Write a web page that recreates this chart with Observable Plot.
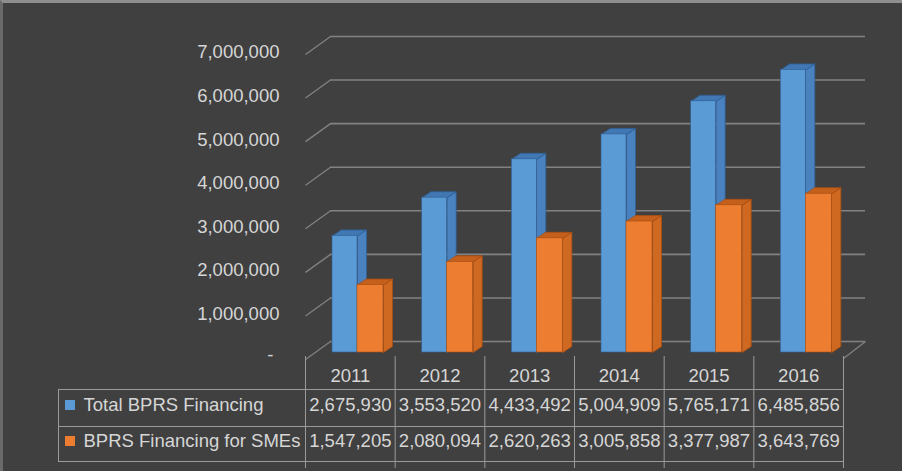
<!DOCTYPE html>
<html>
<head>
<meta charset="utf-8">
<script src="https://cdn.jsdelivr.net/npm/d3@7"></script>
<script src="https://cdn.jsdelivr.net/npm/@observablehq/plot@0.6"></script>
<style>
  html, body { margin: 0; padding: 0; background: #404040; }
  #wrap { position: relative; width: 902px; height: 471px; overflow: hidden; background: #404040; }
  #wrap svg { position: absolute; left: 0; top: 0; }
  #frame { position: absolute; left: 0; top: 0; width: 902px; height: 471px; box-sizing: border-box;
           border-top: 3px solid #8e8e8e; border-left: 3px solid #6a6a6a; pointer-events: none; }
</style>
</head>
<body>
<div id="wrap"><div id="frame"></div></div>
<script>
// ---- data ----
const years = ["2011", "2012", "2013", "2014", "2015", "2016"];
const totalFinancing = [2675930, 3553520, 4433492, 5004909, 5765171, 6485856];
const smeFinancing = [1547205, 2080094, 2620263, 3005858, 3377987, 3643769];
const seriesNames = ["Total BPRS Financing", "BPRS Financing for SMEs"];
const yTicks = [0, 1000000, 2000000, 3000000, 4000000, 5000000, 6000000, 7000000];
const yTickLabels = ["-", "1,000,000", "2,000,000", "3,000,000", "4,000,000", "5,000,000", "6,000,000", "7,000,000"];

(function () {
// ---- layout (pixel geometry, same mapping as the Plot scales) ----
const W = 902, H = 471;
const plotLeft = 305, plotRight = 843, plotTop = 36, plotBottom = 341;
const xPx = d3.scaleLinear([0, years.length], [plotLeft, plotRight]);
const yPx = d3.scaleLinear([0, 7000000], [plotBottom, plotTop]);
const X = p => xPx.invert(p);
const Y = p => yPx.invert(p);
const colW = (plotRight - plotLeft) / years.length;
const depthX = 9 / colW;                         // bar side depth in x units
const depthY = yPx.invert(plotBottom - 6);       // bar top depth in value units
const barLift = 11;                              // bars stand in front of back wall

const palette = {
  blue:   {front: "#5b9bd5", side: "#4a82bf", top: "#4177b2", edge: "#2f5f95"},
  orange: {front: "#ed7d31", side: "#cf6820", top: "#c45f1c", edge: "#a94f12"}
};
const seriesDef = [
  {name: seriesNames[0], values: totalFinancing, offset: 27, width: 25, col: palette.blue},
  {name: seriesNames[1], values: smeFinancing,   offset: 52, width: 26, col: palette.orange}
];

function barMarks(s) {
  const bars = s.values.map((v, i) => ({
    i, v,
    xl: i + s.offset / colW,
    xr: i + (s.offset + s.width) / colW
  }));
  const side = [], topF = [];
  bars.forEach((b, k) => {
    side.push({id: k, x: b.xr, y: 0}, {id: k, x: b.xr + depthX, y: depthY},
              {id: k, x: b.xr + depthX, y: b.v + depthY}, {id: k, x: b.xr, y: b.v});
    topF.push({id: k, x: b.xl, y: b.v}, {id: k, x: b.xr, y: b.v},
              {id: k, x: b.xr + depthX, y: b.v + depthY}, {id: k, x: b.xl + depthX, y: b.v + depthY});
  });
  return [
    Plot.line(side, {x: "x", y: "y", z: "id", fill: s.col.side, stroke: s.col.edge, strokeWidth: 0.8, curve: "linear-closed", dy: barLift}),
    Plot.line(topF, {x: "x", y: "y", z: "id", fill: s.col.top, stroke: s.col.edge, strokeWidth: 0.8, curve: "linear-closed", dy: barLift}),
    Plot.rect(bars, {x1: "xl", x2: "xr", y1: () => 0, y2: "v", fill: s.col.front, stroke: s.col.edge, strokeWidth: 0.6, dy: barLift})
  ];
}

const fmt = d3.format(",");
const textColor = "#d6d6d6";
const gridColor = "#828282";
const lineColor = "#9a9a9a";
const fontSize = 18.5;

// table geometry
const tableLeft = 58;
const headerY = 376;
const rowTop = [389, 426];
const rowBottom = 461;
const rowMid = [405, 441];

const chart = Plot.plot({
  width: W,
  height: H,
  marginLeft: plotLeft,
  marginRight: W - plotRight,
  marginTop: plotTop,
  marginBottom: H - plotBottom,
  x: {domain: [0, years.length], axis: null},
  y: {domain: [0, 7000000], axis: null},
  style: {background: "transparent", color: textColor, fontFamily: "'Liberation Sans', Arial, sans-serif", overflow: "visible"},
  marks: [
    Plot.ruleY(yTicks, {y: d => d, x1: () => X(330), x2: () => X(865), stroke: gridColor, strokeWidth: 1.6}),
    Plot.link(yTicks, {x1: () => X(305), y1: d => Y(yPx(d) + 18), x2: () => X(330), y2: d => d, stroke: gridColor, strokeWidth: 1.3}),
    Plot.link([0], {x1: () => X(843), y1: () => Y(358), x2: () => X(865), y2: () => 0, stroke: gridColor, strokeWidth: 1.3}),
    Plot.text(yTicks.slice(1), {x: () => X(279), y: d => d, dy: 16, text: (d, i) => yTickLabels[i + 1], textAnchor: "end", fontSize, fill: textColor}),
    Plot.text([yTicks[0]], {x: () => X(273), y: d => d, dy: 14, text: () => yTickLabels[0], textAnchor: "end", fontSize, fill: textColor}),
    ...barMarks(seriesDef[0]),
    ...barMarks(seriesDef[1]),
    Plot.ruleX(d3.range(years.length + 1), {x: d => d, y1: () => Y(356), y2: () => Y(468), stroke: lineColor, strokeWidth: 1}),
    Plot.ruleX([0], {x: () => X(tableLeft), y1: () => Y(rowTop[0]), y2: () => Y(rowBottom), stroke: lineColor, strokeWidth: 1}),
    Plot.ruleY([...rowTop, rowBottom], {y: d => Y(d), x1: () => X(tableLeft), x2: () => years.length, stroke: lineColor, strokeWidth: 1}),
    Plot.text(years, {x: (d, i) => i + 0.5, y: () => Y(headerY), text: d => d, fontSize, fill: textColor}),
    Plot.text(totalFinancing, {x: (d, i) => i + 0.5, y: () => Y(rowMid[0]), text: d => fmt(d), fontSize, fill: textColor}),
    Plot.text(smeFinancing, {x: (d, i) => i + 0.5, y: () => Y(rowMid[1]), text: d => fmt(d), fontSize, fill: textColor}),
    Plot.text(seriesNames, {x: () => X(83), y: (d, i) => Y(rowMid[i]), text: d => d, textAnchor: "start", fontSize, fill: textColor}),
    Plot.rect(seriesDef, {x1: () => X(65), x2: () => X(75), y1: (d, i) => Y(rowMid[i] - 5), y2: (d, i) => Y(rowMid[i] + 5), fill: d => d.col.front}),
  ]
});
document.getElementById("wrap").insertBefore(chart, document.getElementById("frame"));
})();
</script>
</body>
</html>
